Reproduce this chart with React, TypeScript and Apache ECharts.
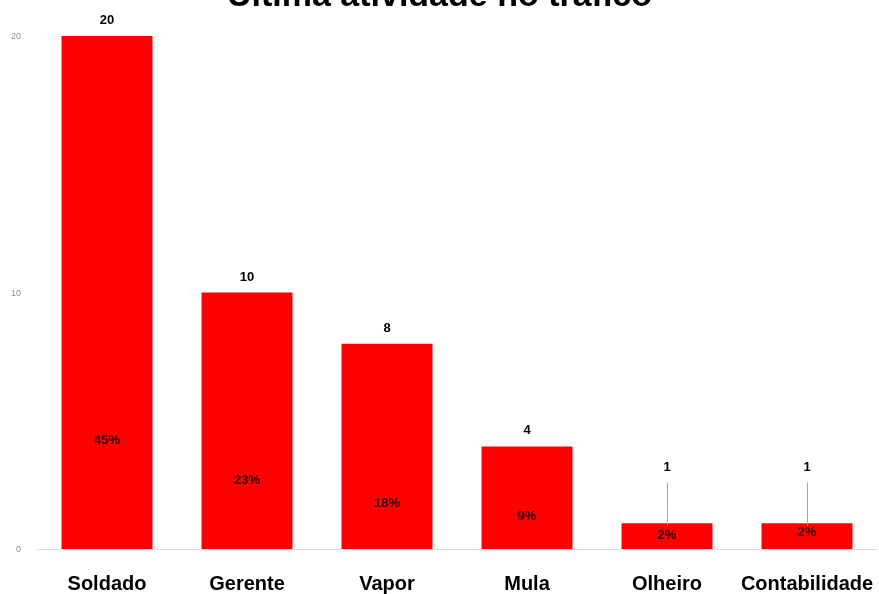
import React, { useEffect, useRef } from "react";
import * as echarts from "echarts";

const categories = ["Soldado", "Gerente", "Vapor", "Mula", "Olheiro", "Contabilidade"];
const counts = [20, 10, 8, 4, 1, 1];
// vertical position (in axis units) where each percentage label sits
const pctLabelY = [4.25, 2.7, 1.83, 1.29, 0.55, 0.7];
const yTicks = { min: 0, max: 20, interval: 10 };

export default function App() {
  const ref = useRef<HTMLDivElement>(null);
  useEffect(() => {
    if (!ref.current) return;
    const chart = echarts.init(ref.current, undefined, { renderer: "svg" });
    const total = counts.reduce((a, b) => a + b, 0);
    const font = "Liberation Sans, Arial, sans-serif";
    chart.setOption({
      animation: false,
      title: {
        text: "Última atividade no tráfico",
        left: "center",
        top: -28,
        textStyle: { fontFamily: font, fontSize: 34, fontWeight: "bold", color: "#000" },
      },
      grid: { left: 37, right: 2, top: 36, bottom: 45 },
      xAxis: {
        type: "category",
        data: categories,
        axisLine: { lineStyle: { color: "#d9d9d9", width: 1 } },
        axisTick: { show: false },
        axisLabel: { interval: 0, color: "#000", fontFamily: font, fontWeight: "bold", fontSize: 20, margin: 24 },
      },
      yAxis: {
        type: "value",
        min: yTicks.min,
        max: yTicks.max,
        interval: yTicks.interval,
        splitLine: { show: false },
        axisLine: { show: false },
        axisTick: { show: false },
        axisLabel: { color: "#8c8c8c", fontSize: 9, fontFamily: font, margin: 16 },
      },
      series: [
        {
          type: "bar",
          data: counts.map((v) => ({
            value: v,
            label: v <= 1 ? { offset: [0, -40] } : undefined,
          })),
          barCategoryGap: "35%",
          itemStyle: { color: "#ff0000" },
          label: {
            show: true,
            position: "top",
            distance: 10,
            color: "#000",
            fontFamily: font,
            fontWeight: "bold",
            fontSize: 13,
          },
          markLine: {
            silent: true,
            symbol: "none",
            label: { show: false },
            lineStyle: { color: "#a6a6a6", width: 1, type: "solid" },
            data: categories
              .map((c, i) => (counts[i] <= 1 ? [{ coord: [c, counts[i] * 0.92] }, { coord: [c, counts[i] + 1.6] }] : null))
              .filter(Boolean),
          },
        },
        {
          type: "scatter",
          symbolSize: 0,
          data: categories.map((c, i) => [c, pctLabelY[i]]),
          label: {
            show: true,
            position: "inside",
            color: "#000",
            fontFamily: font,
            fontWeight: "bold",
            fontSize: 13,
            formatter: (p: any) => Math.round((counts[p.dataIndex] / total) * 100) + "%",
          },
          z: 5,
        },
      ],
    });
    return () => chart.dispose();
  }, []);
  return <div ref={ref} style={{ position: "fixed", left: 0, top: 0, width: 879, height: 594 }} />;
}
